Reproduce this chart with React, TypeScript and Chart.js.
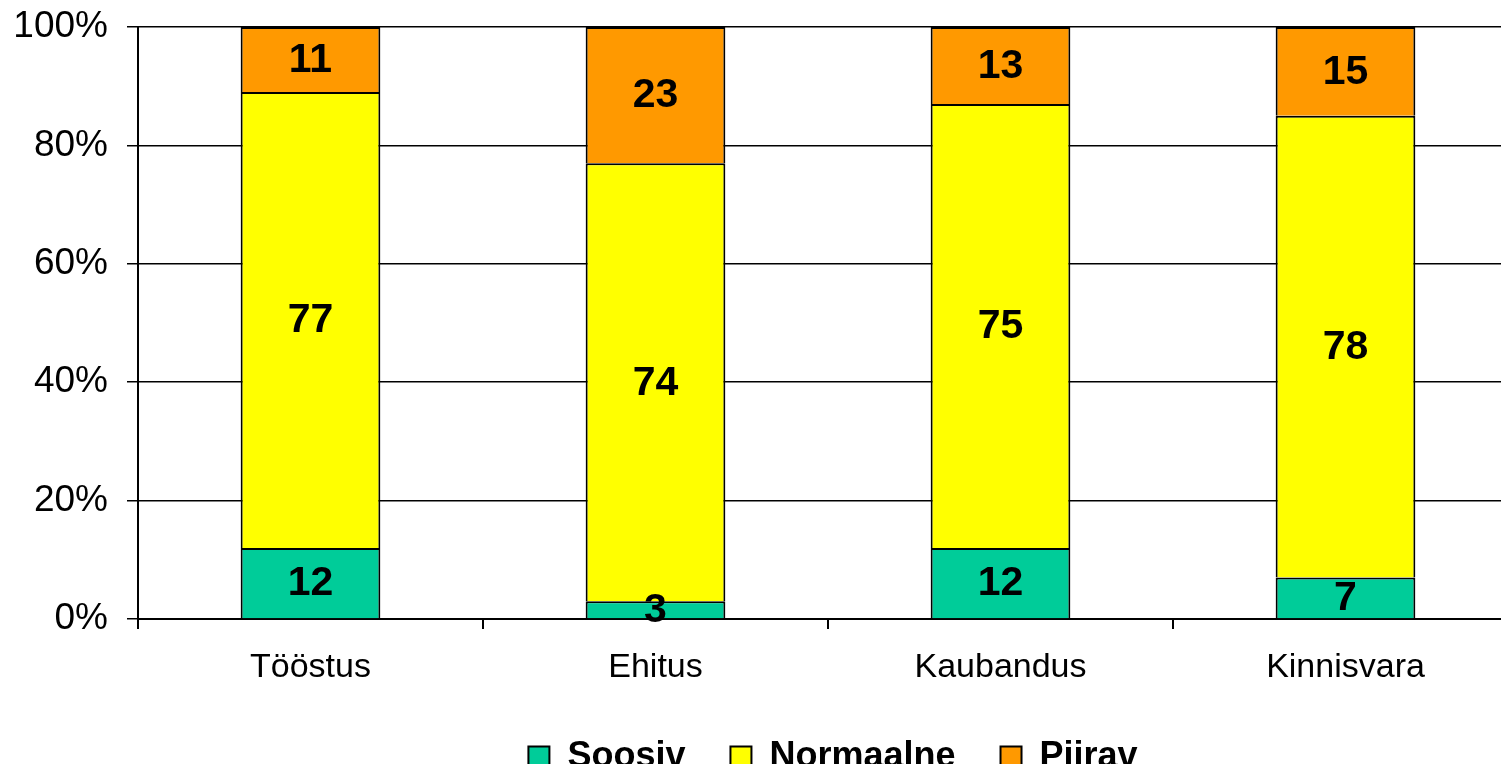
import React, { useEffect, useRef } from "react";
import { Chart, registerables } from "chart.js";

Chart.register(...registerables);

const categories = ["Tööstus", "Ehitus", "Kaubandus", "Kinnisvara"];
const soosiv = [12, 3, 12, 7];
const normaalne = [77, 74, 75, 78];
const piirav = [11, 23, 13, 15];
const yTicks = [0, 20, 40, 60, 80, 100];

const FONT = '"Liberation Sans", Arial, sans-serif';

const segLabels = {
  id: "segLabels",
  afterDatasetsDraw(chart: any) {
    const ctx = chart.ctx;
    ctx.save();
    ctx.font = `bold 41px ${FONT}`;
    ctx.fillStyle = "#000";
    ctx.textAlign = "center";
    ctx.textBaseline = "middle";
    chart.data.datasets.forEach((ds: any, i: number) => {
      const meta = chart.getDatasetMeta(i);
      meta.data.forEach((bar: any, j: number) => {
        const p = bar.getProps(["x", "y", "base"], true);
        ctx.fillText(String(ds.data[j]), p.x, (p.y + p.base) / 2 + 1);
      });
    });
    ctx.restore();
  },
};

const legendShift = {
  id: "legendShift",
  afterLayout(chart: any) {
    const lg = chart.legend;
    if (lg) {
      lg.left += 74;
      lg.right += 74;
    }
  },
};

export default function App() {
  const ref = useRef<HTMLCanvasElement | null>(null);
  useEffect(() => {
    if (!ref.current) return;
    const chart = new Chart(ref.current, {
      type: "bar",
      data: {
        labels: categories,
        datasets: [
          { label: "Soosiv", data: soosiv, backgroundColor: "#00CC99", borderColor: "#000", borderWidth: 2 },
          { label: "Normaalne", data: normaalne, backgroundColor: "#FFFF00", borderColor: "#000", borderWidth: 2 },
          { label: "Piirav", data: piirav, backgroundColor: "#FF9900", borderColor: "#000", borderWidth: 2 },
        ],
      },
      options: {
        responsive: false,
        animation: false,
        devicePixelRatio: 1,
        layout: { padding: { top: 27, right: 12, left: 0, bottom: 0 } },
        datasets: { bar: { barPercentage: 0.405, categoryPercentage: 1 } },
        plugins: {
          legend: {
            position: "bottom",
            labels: {
              boxWidth: 21,
              boxHeight: 21,
              padding: 45,
              color: "#000",
              font: { family: FONT, size: 36, weight: "bold" },
            },
          },
          tooltip: { enabled: false },
        },
        scales: {
          x: {
            stacked: true,
            afterFit(scale: any) {
              scale.height = 75;
              scale.paddingLeft = 0;
              scale.paddingRight = 0;
            },
            grid: {
              display: true,
              drawOnChartArea: false,
              drawTicks: true,
              tickLength: 10,
              color: "#000",
              lineWidth: 2,
              offset: true,
            },
            border: { display: true, color: "#000", width: 2 },
            ticks: {
              color: "#000",
              padding: 18,
              maxRotation: 0,
              font: { family: FONT, size: 34 },
            },
          },
          y: {
            stacked: true,
            min: 0,
            max: 100,
            afterFit(scale: any) {
              scale.width = 138;
              scale.paddingTop = 0;
              scale.paddingBottom = 0;
            },
            afterBuildTicks(scale: any) {
              scale.ticks = yTicks.map((v) => ({ value: v }));
            },
            grid: { color: "#000", lineWidth: 1.5, tickLength: 11 },
            border: { display: true, color: "#000", width: 2 },
            ticks: {
              color: "#000",
              padding: 19,
              font: { family: FONT, size: 37 },
              callback: (v: any) => `${v}%`,
            },
          },
        },
      },
      plugins: [segLabels, legendShift],
    });
    return () => chart.destroy();
  }, []);
  return (
    <div style={{ position: "absolute", left: 0, top: 0, width: 1501, height: 764, overflow: "hidden", background: "#fff" }}>
      <canvas ref={ref} width={1530} height={785} style={{ display: "block" }} />
    </div>
  );
}
